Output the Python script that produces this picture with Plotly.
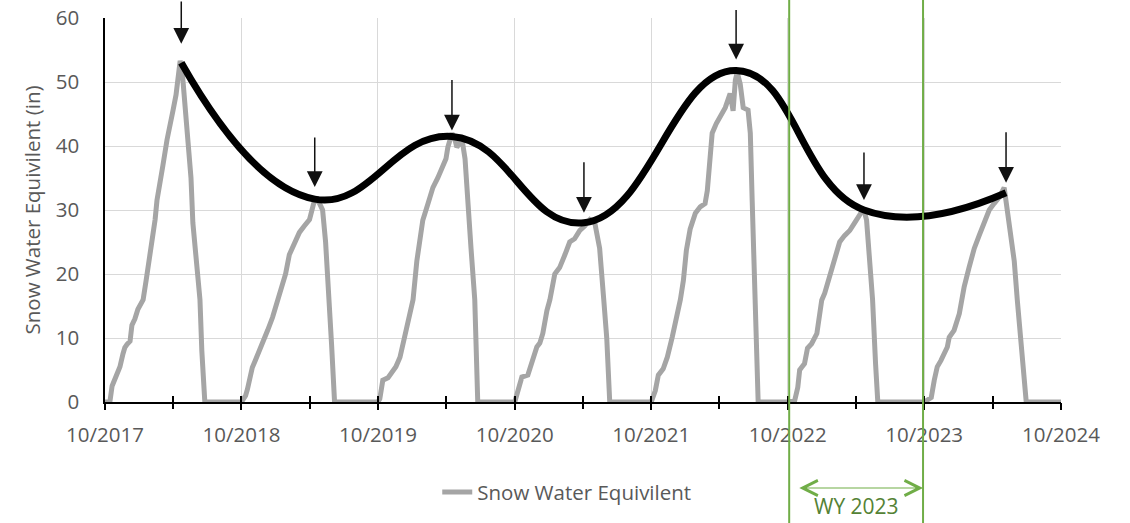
import pandas as pd
import plotly.graph_objects as go

# ---------------- data ----------------
# Snow water equivalent per water year: day of water year (from Oct 1) and SWE (in)
wy2018_days = [0, 13, 19, 27, 35, 40, 48, 53, 59, 67, 72, 80, 88, 102, 110, 118, 126, 134, 139, 147,
               155, 166, 174, 182, 190, 195, 201, 206, 214, 222, 230, 235, 243, 254, 259, 267]
wy2018_swe = [0, 0, 2.5, 3.5, 4.5, 5.5, 7.5, 8.5, 9, 9.5, 12, 13, 14.5, 16, 19, 22, 25, 28.5, 31.5, 34,
              37, 41, 43, 45.6, 48, 51, 53.3, 52, 47, 41, 35, 28, 22, 16, 8, 0]

wy2019_days = [0, 11, 16, 21, 29, 37, 43, 51, 56, 64, 70, 83, 96, 107, 118, 128, 142, 155, 168, 182,
               193, 201, 209, 217, 225, 233, 241, 249]
wy2019_swe = [0, 1, 2, 3.5, 5.4, 6.5, 7.3, 8.5, 9.2, 10, 11.2, 13.2, 15.9, 18, 20, 23, 25, 26.5, 27.5, 28.5,
              31, 32, 31, 30, 25, 18, 9, 0]

wy2020_days = [0, 5, 13, 27, 37, 48, 59, 70, 78, 86, 94, 104, 112, 120, 134, 147, 160, 174, 182, 187,
               198, 206, 211, 219, 225, 233, 241, 249, 259, 267]
wy2020_swe = [0, 0.5, 3.4, 3.8, 4.5, 5.5, 7, 10, 12.3, 14, 16, 22, 26, 28.4, 31, 33.5, 35, 36.7, 38, 39.8,
              42, 41, 39.8, 40.5, 41, 38, 30, 24, 16, 0]

wy2021_days = [0, 8, 19, 35, 45, 59, 67, 75, 86, 94, 107, 120, 134, 147, 160, 174, 187, 201, 214, 222,
               227, 238, 246, 254]
wy2021_swe = [0, 1.8, 3.9, 4.2, 6.2, 8.6, 9.2, 10.7, 14.3, 16, 20, 21, 23, 25, 25.5, 26.8, 27.5, 28.5, 28, 26,
              24, 16, 10, 0]

wy2022_days = [0, 11, 19, 32, 43, 56, 70, 78, 86, 94, 104, 118, 131, 144, 150, 158, 163, 174, 185, 198,
               211, 219, 225, 230, 238, 246, 259, 265, 270, 278, 286]
wy2022_swe = [0, 1.8, 4.2, 5.2, 7, 10.1, 13.8, 16, 19, 23.7, 27, 29.5, 30.5, 31, 33, 38, 42, 43.5, 44.5, 46,
              48.2, 45.5, 50.3, 51.5, 49.7, 46, 45.6, 42, 31.5, 16, 0]

wy2023_days = [0, 19, 27, 32, 37, 45, 53, 64, 78, 86, 91, 99, 112, 126, 139, 152, 166, 179, 193, 203,
               211, 219, 227, 235, 241]
wy2023_swe = [0, 0.3, 2.3, 5, 5.4, 6, 8.4, 9.1, 10.7, 13.8, 15.9, 17, 19.5, 22, 25, 26, 26.8, 28, 29.5, 30.2,
              28.4, 22, 16, 6, 0]

wy2024_days = [0, 19, 27, 35, 45, 62, 67, 80, 94, 99, 107, 120, 134, 147, 160, 174, 187, 201, 214, 222,
               227, 241, 249, 254, 265, 273, 366]
wy2024_swe = [0, 0.7, 3.4, 5.5, 6.5, 8.6, 10.1, 11.2, 13.8, 15.9, 18, 21, 24, 26, 28, 30, 31, 32, 33.5, 30,
              28.4, 22, 16, 13, 5, 0, 0]

water_years = [2018, 2019, 2020, 2021, 2022, 2023, 2024]
wy_days = [wy2018_days, wy2019_days, wy2020_days, wy2021_days, wy2022_days, wy2023_days, wy2024_days]
wy_swe = [wy2018_swe, wy2019_swe, wy2020_swe, wy2021_swe, wy2022_swe, wy2023_swe, wy2024_swe]

# Annual peaks (smoothed black line and arrows)
peak_dates = ["2018-04-23", "2019-04-15", "2020-04-16", "2021-04-04", "2022-05-16", "2023-04-23", "2024-05-07"]
peak_swe = [53.0, 31.7, 41.5, 28.0, 51.8, 30.0, 32.7]

# Axis ticks
year_ticks = ["2017-10-01", "2018-10-01", "2019-10-01", "2020-10-01", "2021-10-01",
              "2022-10-01", "2023-10-01", "2024-10-01"]
year_labels = ["10/2017", "10/2018", "10/2019", "10/2020", "10/2021", "10/2022", "10/2023", "10/2024"]
half_year_ticks = ["2017-10-01", "2018-04-01", "2018-10-01", "2019-04-01", "2019-10-01", "2020-04-01",
                   "2020-10-01", "2021-04-01", "2021-10-01", "2022-04-01", "2022-10-01", "2023-04-01",
                   "2023-10-01", "2024-04-01", "2024-10-01"]

# Water year 2023 bracket
wy_bracket_start = "2022-10-05"
wy_bracket_end = "2023-09-28"
wy_label = "WY 2023"

# ---------------- build series ----------------
dates, values = [], []
for wy, ds, vs in zip(water_years, wy_days, wy_swe):
    start = pd.Timestamp(f"{wy - 1}-10-01")
    for d, v in zip(ds, vs):
        dates.append(start + pd.Timedelta(days=d))
        values.append(v)

FONT = "'Open Sans', Lato, sans-serif"
GRAY_TXT = "#595959"
GREEN = "#70AD47"
DKGREEN = "#548235"
FS = 20.5

fig = go.Figure()
fig.add_trace(go.Scatter(x=dates, y=values, mode="lines", name="Snow Water Equivilent",
                         line=dict(color="#A5A5A5", width=5), xaxis="x", yaxis="y"))
fig.add_trace(go.Scatter(x=pd.to_datetime(peak_dates), y=peak_swe, mode="lines", showlegend=False,
                         line=dict(color="#000000", width=7, shape="spline", smoothing=1.3),
                         xaxis="x", yaxis="y"))

# arrows at peaks (tail offset and stand-off in pixels)
arrow_tail = [-70, -63, -58, -62, -62, -59, -62]
standoffs = [19, 12, 6, 10, 11, 10, 10]
for d, v, ay, so in zip(peak_dates, peak_swe, arrow_tail, standoffs):
    fig.add_annotation(x=d, y=v, xref="x", yref="y", text="", showarrow=True, ax=0, ay=ay,
                       arrowhead=2, arrowsize=2.1, arrowwidth=1.5, arrowcolor="#111111", standoff=so)

# WY 2023 vertical green lines
for d in [wy_bracket_start, wy_bracket_end]:
    fig.add_shape(type="line", xref="x", yref="paper", x0=d, x1=d, y0=-0.4, y1=1.1,
                  line=dict(color=GREEN, width=2), layer="above")

# double arrow
fig.add_annotation(x=wy_bracket_end, y=-0.224, xref="x", yref="paper", ax="2022-10-28", ay=0,
                   axref="x", ayref="pixel", text="", showarrow=True, arrowside="end+start",
                   arrowhead=5, startarrowhead=5, arrowsize=2.5, startarrowsize=2.5, arrowwidth=1.2,
                   arrowcolor=GREEN)
fig.add_annotation(x="2023-04-04", y=-0.2715, xref="x", yref="paper", text=wy_label, showarrow=False,
                   font=dict(family=FONT, size=21, color=DKGREEN), yanchor="middle")

fig.update_layout(
    width=1130, height=523,
    margin=dict(l=105, r=69, t=18, b=121, autoexpand=False),
    paper_bgcolor="white", plot_bgcolor="white",
    font=dict(family=FONT, size=FS, color=GRAY_TXT),
    showlegend=True,
    legend=dict(orientation="h", x=0.483, xanchor="center", y=-0.235, yanchor="middle",
                font=dict(family=FONT, size=FS, color=GRAY_TXT), bgcolor="rgba(0,0,0,0)"),
    xaxis=dict(type="date", range=["2017-10-01", "2024-10-01"], tickvals=year_ticks, ticktext=year_labels,
               showgrid=True, gridcolor="#D9D9D9", gridwidth=1.3, showline=True, linecolor="#000000",
               linewidth=1.5, ticks="outside", ticklen=6, tickwidth=1.5, tickcolor="#000000",
               ticklabelstandoff=8, tickfont=dict(family=FONT, size=FS, color=GRAY_TXT),
               zeroline=False, automargin=False),
    xaxis2=dict(type="date", range=["2017-10-01", "2024-10-01"], overlaying="x", side="bottom",
                tickvals=half_year_ticks, showticklabels=False, showgrid=False, ticks="inside",
                ticklen=6, tickwidth=1.5, tickcolor="#000000", showline=False, zeroline=False,
                automargin=False),
    xaxis3=dict(type="date", range=["2017-10-01", "2024-10-01"], overlaying="x", side="bottom",
                tickvals=half_year_ticks, showticklabels=False, showgrid=False, ticks="outside",
                ticklen=6, tickwidth=1.5, tickcolor="#000000", showline=False, zeroline=False,
                automargin=False),
    yaxis=dict(range=[0, 60], dtick=10, showgrid=True, gridcolor="#D9D9D9", gridwidth=1.3,
               showline=True, linecolor="#000000", linewidth=1.5, ticks="", zeroline=False,
               ticklabelstandoff=20, tickfont=dict(family=FONT, size=FS, color=GRAY_TXT),
               automargin=False,
               title=dict(text="Snow Water Equivilent (in)", standoff=10,
                          font=dict(family=FONT, size=FS, color=GRAY_TXT))),
)
# dummy traces to activate overlay axes
fig.add_trace(go.Scatter(x=[None], y=[None], xaxis="x2", yaxis="y", showlegend=False, hoverinfo="skip"))
fig.add_trace(go.Scatter(x=[None], y=[None], xaxis="x3", yaxis="y", showlegend=False, hoverinfo="skip"))

fig.write_html("out.html", config={"displayModeBar": False},
               post_script="document.body.style.margin='0';document.body.style.overflow='hidden';")
